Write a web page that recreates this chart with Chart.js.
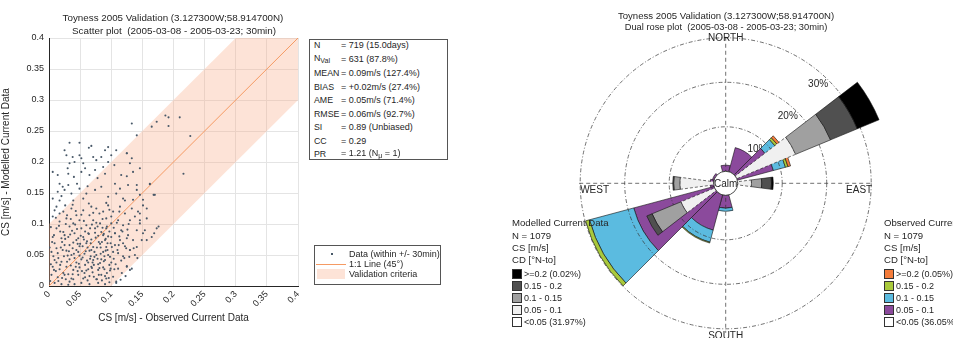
<!DOCTYPE html>
<html>
<head>
<meta charset="utf-8">
<script src="https://cdn.jsdelivr.net/npm/chart.js@4.4.0/dist/chart.umd.min.js"></script>
<style>
body { margin: 0; background: #fff; }
#wrap { position: relative; width: 953px; height: 338px; overflow: hidden; font-family: "Liberation Sans", Arial, sans-serif; color: #262626; }
.t { position: absolute; white-space: nowrap; line-height: 1; transform: translateY(-50%); }
.c { transform: translate(-50%, -50%); }
canvas { position: absolute; }
.box { position: absolute; border: 1px solid #555; background: #fff; }
.sw { position: absolute; width: 8px; height: 8px; border: 1px solid #333; }
sub { font-size: 7px; }
</style>
</head>
<body>
<div id="wrap">
  <canvas id="scatter" width="310" height="338" style="left:0;top:0"></canvas>
  <canvas id="rose" width="473" height="338" style="left:480px;top:0"></canvas>

  <!-- titles -->
  <div class="t c" style="left:173px;top:18px;font-size:9.8px">Toyness 2005 Validation (3.127300W;58.914700N)</div>
  <div class="t c" style="left:174px;top:31px;font-size:9.9px">Scatter plot&nbsp; (2005-03-08 - 2005-03-23; 30min)</div>
  <div class="t c" style="left:726px;top:16px;font-size:9.6px">Toyness 2005 Validation (3.127300W;58.914700N)</div>
  <div class="t c" style="left:726px;top:28px;font-size:9.3px">Dual rose plot&nbsp; (2005-03-08 - 2005-03-23; 30min)</div>

  <!-- stats box -->
  <div class="box" style="left:309px;top:39px;width:137px;height:119px"></div>
  <div id="stats"></div>

  <!-- scatter legend -->
  <div class="box" style="left:314px;top:245px;width:125px;height:38px"></div>
  <div style="position:absolute;left:331px;top:253px;width:2px;height:2px;background:#485868"></div>
  <div style="position:absolute;left:316px;top:264px;width:30px;height:1px;background:#f59a63"></div>
  <div style="position:absolute;left:317px;top:269px;width:28px;height:10px;background:#fde3d7"></div>
  <div class="t" style="left:349px;top:254px;font-size:9px">Data (within +/- 30min)</div>
  <div class="t" style="left:349px;top:264px;font-size:9px">1:1 Line (45°)</div>
  <div class="t" style="left:349px;top:274px;font-size:9px">Validation criteria</div>

  <div id="legMod"></div>
  <div id="legObs"></div>
</div>
<script>
// ---------- scatter data: [observed CS, modelled CS] in m/s ----------
const scatterPairs = [
  [0.033,0.231],[0.049,0.231],[0.064,0.223],[0.025,0.219],[0.090,0.219],[0.095,0.224],[0.028,0.211],[0.038,0.208],
  [0.049,0.211],[0.052,0.206],[0.071,0.208],[0.084,0.208],[0.100,0.211],[0.108,0.219],[0.125,0.214],[0.133,0.206],
  [0.033,0.198],[0.041,0.200],[0.055,0.198],[0.076,0.203],[0.095,0.200],[0.006,0.184],[0.014,0.179],[0.031,0.181],
  [0.052,0.184],[0.065,0.179],[0.074,0.187],[0.090,0.181],[0.116,0.179],[0.135,0.184],[0.146,0.190],[0.017,0.165],
  [0.022,0.160],[0.031,0.163],[0.014,0.152],[0.025,0.155],[0.036,0.149],[0.049,0.157],[0.060,0.149],[0.074,0.155],
  [0.084,0.160],[0.006,0.141],[0.017,0.138],[0.039,0.138],[0.055,0.141],[0.106,0.165],[0.114,0.157],[0.127,0.163],
  [0.108,0.149],[0.141,0.155],[0.095,0.144],[0.119,0.141],[0.146,0.147],[0.170,0.147],[0.162,0.165],[0.216,0.181],
  [0.012,0.128],[0.023,0.120],[0.036,0.125],[0.044,0.114],[0.055,0.122],[0.065,0.114],[0.076,0.125],[0.087,0.120],
  [0.095,0.130],[0.103,0.120],[0.114,0.128],[0.122,0.117],[0.133,0.125],[0.143,0.120],[0.151,0.130],[0.006,0.112],
  [0.017,0.104],[0.028,0.109],[0.039,0.101],[0.049,0.106],[0.060,0.098],[0.071,0.106],[0.082,0.101],[0.092,0.109],
  [0.100,0.101],[0.111,0.106],[0.119,0.098],[0.130,0.106],[0.146,0.101],[0.157,0.109],[0.012,0.093],[0.023,0.087],
  [0.033,0.096],[0.041,0.085],[0.052,0.093],[0.063,0.085],[0.074,0.093],[0.084,0.087],[0.092,0.093],[0.106,0.085],
  [0.116,0.090],[0.127,0.082],[0.141,0.090],[0.151,0.085],[0.173,0.093],[0.006,0.079],[0.020,0.077],[0.031,0.079],
  [0.044,0.074],[0.055,0.079],[0.068,0.075],[0.079,0.081],[0.090,0.074],[0.100,0.079],[0.114,0.074],[0.125,0.077],
  [0.135,0.074],[0.149,0.074],[0.165,0.079],[0.009,0.069],[0.025,0.066],[0.039,0.070],[0.049,0.064],[0.060,0.069],
  [0.071,0.063],[0.082,0.068],[0.092,0.063],[0.106,0.066],[0.122,0.064],[0.130,0.058],[0.141,0.063],[0.004,0.055],
  [0.014,0.053],[0.028,0.057],[0.036,0.050],[0.047,0.055],[0.057,0.052],[0.065,0.057],[0.076,0.050],[0.087,0.055],
  [0.095,0.050],[0.111,0.053],[0.119,0.048],[0.138,0.050],[0.009,0.042],[0.020,0.039],[0.033,0.043],[0.044,0.038],
  [0.052,0.043],[0.063,0.038],[0.071,0.042],[0.082,0.037],[0.090,0.042],[0.100,0.038],[0.125,0.032],[0.133,0.028],
  [0.006,0.031],[0.017,0.027],[0.028,0.031],[0.039,0.026],[0.049,0.030],[0.060,0.025],[0.068,0.031],[0.079,0.026],
  [0.087,0.030],[0.098,0.025],[0.111,0.028],[0.004,0.018],[0.014,0.014],[0.025,0.018],[0.036,0.012],[0.047,0.018],
  [0.055,0.012],[0.065,0.016],[0.076,0.011],[0.084,0.018],[0.092,0.012],[0.103,0.015],[0.009,0.005],[0.020,0.003],
  [0.033,0.007],[0.041,0.003],[0.052,0.005],[0.065,0.003],[0.079,0.005],[0.090,0.003],[0.108,0.005],
  [0.133,0.262],[0.141,0.243],[0.165,0.257],[0.173,0.265],[0.187,0.275],[0.192,0.272],[0.192,0.258],[0.210,0.272],
  [0.227,0.242],[0.168,0.147],[0.162,0.164],[0.176,0.096],[0.169,0.085],[0.154,0.090],[0.157,0.125],[0.125,0.214],
  [0.130,0.198],[0.125,0.177],[0.141,0.163],[0.135,0.139],[0.151,0.139],[0.146,0.117],[0.130,0.058],[0.125,0.031],
  [0.130,0.026],[0.108,0.007],[0.106,0.085],[0.146,0.106],[0.157,0.074],
  [0.003,0.095],[0.018,0.088],[0.027,0.100],[0.045,0.092],[0.058,0.088],[0.069,0.099],[0.086,0.094],[0.097,0.088],
  [0.008,0.082],[0.021,0.071],[0.034,0.083],[0.047,0.077],[0.061,0.072],[0.075,0.078],[0.088,0.084],[0.099,0.069],
  [0.012,0.061],[0.024,0.048],[0.038,0.061],[0.050,0.068],[0.062,0.062],[0.073,0.055],[0.083,0.062],[0.094,0.058],
  [0.104,0.044],[0.007,0.048],[0.018,0.034],[0.030,0.049],[0.041,0.045],[0.054,0.046],[0.067,0.048],[0.078,0.044],
  [0.089,0.048],[0.097,0.034],[0.011,0.024],[0.023,0.021],[0.035,0.033],[0.046,0.024],[0.058,0.034],[0.070,0.022],
  [0.080,0.018],[0.093,0.021],[0.105,0.027],[0.015,0.008],[0.027,0.011],[0.038,0.019],[0.057,0.021],[0.062,0.009],
  [0.072,0.015],[0.085,0.009],[0.097,0.006],[0.115,0.010],[0.003,0.035],[0.001,0.062],[0.002,0.008],[0.031,0.002],
  [0.044,0.058],[0.056,0.105],[0.066,0.044],[0.079,0.035],[0.091,0.076],[0.078,0.096],[0.011,0.110],[0.026,0.130],
  [0.043,0.121],[0.064,0.133],[0.081,0.117],[0.100,0.112],[0.118,0.088],[0.124,0.061],[0.112,0.066],[0.104,0.094],
  [0.136,0.061],[0.142,0.045],[0.121,0.045],[0.117,0.021],[0.128,0.100],[0.138,0.112],[0.122,0.138],[0.092,0.134],
  [0.071,0.118],[0.035,0.108],
  [0.015,0.045],[0.022,0.058],[0.029,0.039],[0.033,0.066],[0.040,0.052],[0.048,0.036],[0.051,0.081],[0.059,0.056],
  [0.063,0.027],[0.067,0.069],[0.070,0.038],[0.074,0.086],[0.077,0.062],[0.081,0.029],[0.085,0.071],[0.088,0.040],
  [0.091,0.057],[0.095,0.080],[0.098,0.047],[0.101,0.063],[0.012,0.038],[0.019,0.062],[0.026,0.076],[0.031,0.019],
  [0.037,0.089],[0.043,0.031],[0.046,0.068],[0.053,0.024],[0.056,0.075],[0.061,0.041],[0.066,0.093],[0.069,0.029],
  [0.073,0.047],[0.077,0.011],[0.083,0.052],[0.087,0.082],[0.090,0.016],[0.094,0.069],[0.099,0.028],[0.103,0.055],
  [0.005,0.071],[0.008,0.026],[0.016,0.097],[0.021,0.013],[0.025,0.082],[0.032,0.056],[0.039,0.011],[0.042,0.099],
  [0.049,0.049],[0.054,0.064],[0.058,0.014],[0.064,0.084],[0.068,0.058],[0.072,0.034],[0.076,0.102],[0.080,0.071],
  [0.084,0.043],[0.089,0.027],[0.093,0.096],[0.096,0.013],[0.107,0.035],[0.110,0.058],[0.113,0.080],[0.116,0.041],
  [0.119,0.069],[0.123,0.016],[0.126,0.091],[0.129,0.047],[0.109,0.102],[0.113,0.120],[0.020,0.145],[0.045,0.165],
  [0.058,0.190],[0.078,0.174],[0.040,0.176],[0.062,0.161],[0.087,0.192],[0.030,0.190],[0.068,0.226],[0.105,0.195],
  [0.017,0.117],[0.038,0.131],[0.052,0.115],[0.068,0.128],[0.086,0.108],[0.097,0.123],[0.029,0.114],[0.009,0.122]
];
const axisTicks = [0, 0.05, 0.1, 0.15, 0.2, 0.25, 0.3, 0.35, 0.4];
const bandUpper = [[0, 0.1], [0.1, 0.2], [0.3, 0.4], [0.4, 0.4]];
const bandLower = [[0, 0], [0.1, 0], [0.3, 0.2], [0.4, 0.3]];
const oneToOne = [[0, 0], [0.4, 0.4]];

const statLabels = ['N', 'N<sub>Val</sub>', 'MEAN', 'BIAS', 'AME', 'RMSE', 'SI', 'CC', 'PR'];
const statValues = ['= 719 (15.0days)', '= 631 (87.8%)', '= 0.09m/s (127.4%)', '= +0.02m/s (27.4%)',
  '= 0.05m/s (71.4%)', '= 0.06m/s (92.7%)', '= 0.89 (Unbiased)', '= 0.29', '= 1.21 (N<sub>μ</sub> = 1)'];

// ---------- rose data: percentage per direction bin (degrees, going to) ----------
const roseDirs = [0, 30, 60, 90, 120, 150, 180, 210, 240, 270, 300, 330];
// observed current, per speed class
const obs05to10 = [1.4, 5.6, 8.4, 0, 0, 0, 2.9, 8.2, 18.7, 0.8, 0.4, 0];
const obs10to15 = [0, 0, 2.8, 0, 0, 0, 0.7, 2.8, 10.3, 0, 0, 0];
const obs15to20 = [0, 0, 0.6, 0, 0, 0, 0, 0.2, 0.9, 0, 0, 0];
const obsOver20 = [0, 0, 0.6, 0, 0, 0, 0, 0, 0, 0, 0, 0];
// modelled current, per speed class
const mod05to10 = [0, 0, 14.3, 3.1, 0, 0, 0, 0, 8.2, 7.6, 0, 0];
const mod10to15 = [0, 0, 8.5, 2.3, 0, 0, 0, 0, 7.0, 1.4, 0, 0];
const mod15to20 = [0, 0, 6.5, 2.2, 0, 0, 0, 0, 1.3, 0.2, 0, 0];
const modOver20 = [0, 0, 5.3, 0.4, 0, 0, 0, 0, 0, 0, 0, 0];
const roseRings = [10, 20, 30];
const calmRadius = 2.7;   // calm circle, in % units

const obsColors = ['#8b4a9c', '#5bbbe0', '#a9c93b', '#f47c3a'];
const modColors = ['#f0f0f0', '#a0a0a0', '#505050', '#000000'];
const classNames = ['>=0.2', '0.15 - 0.2', '0.1 - 0.15', '0.05 - 0.1', '<0.05'];

// ---------- html text blocks ----------
function addText(parent, x, y, html, size) {
  const d = document.createElement('div');
  d.className = 't';
  d.style.left = x + 'px';
  d.style.top = y + 'px';
  d.style.fontSize = size + 'px';
  d.innerHTML = html;
  parent.appendChild(d);
}

const statsEl = document.getElementById('stats');
const statY = [45, 59, 73, 87, 100, 114, 127, 141, 154];
statLabels.forEach((l, i) => {
  addText(statsEl, 314, statY[i], l, 8.8);
  addText(statsEl, 341, statY[i], statValues[i], 9);
});

function roseLegend(el, x, title, calmPct, colors) {
  addText(el, x, 223, title, 9.6);
  addText(el, x, 236, 'N = 1079', 9.6);
  addText(el, x, 248, 'CS [m/s]', 9.6);
  addText(el, x, 260, 'CD [°N-to]', 9.6);
  const rows = [274, 286, 298, 310, 322];
  const fills = [colors[3], colors[2], colors[1], colors[0], '#ffffff'];
  rows.forEach((y, i) => {
    const s = document.createElement('div');
    s.className = 'sw';
    s.style.left = x + 'px';
    s.style.top = (y - 5) + 'px';
    s.style.background = fills[i];
    el.appendChild(s);
    let label = classNames[i];
    if (i === 0) label += ' (' + (title[0] === 'M' ? '0.02%' : '0.05%') + ')';
    if (i === 4) label += ' (' + calmPct + ')';
    addText(el, x + 12, y, label, 9);
  });
}
roseLegend(document.getElementById('legMod'), 512, 'Modelled Current Data', '31.97%', modColors);
roseLegend(document.getElementById('legObs'), 884, 'Observed Current Data', '36.05%', obsColors);

// ---------- scatter chart ----------
const toXY = p => ({ x: p[0], y: p[1] });
const tickFmt = v => String(parseFloat(v.toFixed(2)));
const tickFont = { family: '"Liberation Sans", Arial, sans-serif', size: 9 };
const axisTitleFont = { family: '"Liberation Sans", Arial, sans-serif', size: 10 };

new Chart(document.getElementById('scatter'), {
  type: 'scatter',
  data: {
    datasets: [
      { type: 'line', data: bandUpper.map(toXY), borderWidth: 0, pointRadius: 0, fill: '+1',
        backgroundColor: 'rgba(248,175,140,0.35)', order: 3 },
      { type: 'line', data: bandLower.map(toXY), borderWidth: 0, pointRadius: 0, fill: false, order: 4 },
      { type: 'line', data: oneToOne.map(toXY), borderColor: '#f59a63', borderWidth: 1, pointRadius: 0, order: 2 },
      { data: scatterPairs.map(toXY), pointRadius: 1.05, backgroundColor: '#485868', borderWidth: 0, order: 1 }
    ]
  },
  options: {
    responsive: false,
    animation: false,
    layout: { padding: { top: 38, right: 12, left: 0, bottom: 0 } },
    plugins: { legend: { display: false }, tooltip: { enabled: false } },
    scales: {
      x: {
        type: 'linear', min: 0, max: 0.4,
        afterBuildTicks: s => { s.ticks = axisTicks.map(v => ({ value: v })); },
        afterFit: s => { s.height = 52; },
        ticks: { callback: tickFmt, minRotation: 45, maxRotation: 45, color: '#262626', font: tickFont, padding: 3 },
        grid: { color: '#e4e4e4', drawTicks: false },
        border: { color: '#262626' },
        title: { display: true, text: 'CS [m/s] - Observed Current Data', color: '#262626',
          font: axisTitleFont, padding: { top: 0, bottom: 14 } }
      },
      y: {
        type: 'linear', min: 0, max: 0.4,
        afterBuildTicks: s => { s.ticks = axisTicks.map(v => ({ value: v })); },
        afterFit: s => { s.width = 49; },
        ticks: { callback: tickFmt, color: '#262626', font: tickFont, padding: 5 },
        grid: { color: '#e4e4e4', drawTicks: false },
        border: { color: '#262626' },
        title: { display: true, text: 'CS [m/s] - Modelled Current Data', color: '#262626',
          font: axisTitleFont, padding: { top: 0, bottom: 6 } }
      }
    }
  }
});

// ---------- rose chart ----------
function sector(ctx, cx, cy, r0, r1, bearing, width, fill, dashed) {
  const a0 = (bearing - width / 2 - 90) * Math.PI / 180;
  const a1 = (bearing + width / 2 - 90) * Math.PI / 180;
  ctx.beginPath();
  ctx.arc(cx, cy, r1, a0, a1);
  ctx.arc(cx, cy, r0, a1, a0, true);
  ctx.closePath();
  ctx.fillStyle = fill;
  ctx.fill();
  ctx.lineWidth = 0.6;
  ctx.strokeStyle = '#111';
  ctx.setLineDash(dashed ? [3, 2] : []);
  ctx.stroke();
  ctx.setLineDash([]);
}

function drawStack(ctx, cx, cy, rad, classes, colors, width, lightDashed) {
  roseDirs.forEach((dir, i) => {
    let cum = calmRadius;
    classes.forEach((arr, k) => {
      const v = arr[i];
      if (v > 0) {
        sector(ctx, cx, cy, rad(cum), rad(cum + v), dir, width, colors[k], lightDashed && k === 0);
        cum += v;
      }
    });
  });
}

const rosePlugin = {
  id: 'rose',
  afterDatasetsDraw(chart) {
    const ctx = chart.ctx;
    const xs = chart.scales.x, ys = chart.scales.y;
    const cx = xs.getPixelForValue(0), cy = ys.getPixelForValue(0);
    const rad = v => xs.getPixelForValue(v) - cx;
    const outer = rad(roseRings[roseRings.length - 1] + calmRadius);
    ctx.save();
    ctx.fillStyle = '#262626';
    ctx.font = '10px "Liberation Sans", Arial, sans-serif';
    ctx.textAlign = 'center';
    ctx.textBaseline = 'middle';

    // ring labels (under the sectors)
    roseRings.forEach(r => {
      const rr = rad(r + calmRadius) - 10;
      const b = 43 * Math.PI / 180;
      ctx.fillText(r + '%', cx + rr * Math.sin(b), cy - rr * Math.cos(b));
    });

    // observed: full-width sectors
    drawStack(ctx, cx, cy, rad, [obs05to10, obs10to15, obs15to20, obsOver20], obsColors, 30, false);

    // grid rings and axes
    ctx.strokeStyle = '#333';
    ctx.lineWidth = 0.7;
    ctx.setLineDash([4, 2, 1, 2]);
    roseRings.forEach(r => {
      ctx.beginPath();
      ctx.arc(cx, cy, rad(r + calmRadius), 0, Math.PI * 2);
      ctx.stroke();
    });
    ctx.setLineDash([4, 3]);
    ctx.beginPath();
    ctx.moveTo(cx, cy - outer - 1); ctx.lineTo(cx, cy + outer + 4);
    ctx.moveTo(cx - outer - 1, cy); ctx.lineTo(cx + outer + 1, cy);
    ctx.stroke();
    ctx.setLineDash([]);

    // modelled: half-width sectors on top
    drawStack(ctx, cx, cy, rad, [mod05to10, mod10to15, mod15to20, modOver20], modColors, 15, true);

    // calm circle
    ctx.beginPath();
    ctx.arc(cx, cy, rad(calmRadius), 0, Math.PI * 2);
    ctx.fillStyle = '#fff';
    ctx.fill();
    ctx.lineWidth = 0.8;
    ctx.strokeStyle = '#222';
    ctx.stroke();

    ctx.fillStyle = '#262626';
    ctx.fillText('Calm', cx, cy + 1);

    // compass labels
    ctx.textBaseline = 'bottom';
    ctx.fillText('NORTH', cx, cy - outer + 5);
    ctx.textBaseline = 'top';
    ctx.fillText('SOUTH', cx, cy + outer + 2);
    ctx.textBaseline = 'middle';
    ctx.textAlign = 'left';
    ctx.fillText('WEST', cx - outer, cy + 7);
    ctx.textAlign = 'right';
    ctx.fillText('EAST', cx + outer + 1, cy + 7);
    ctx.restore();
  }
};

const pxPerUnit = 4.45;
const roseCx = 245.7, roseCy = 183.3;
new Chart(document.getElementById('rose'), {
  type: 'scatter',
  data: { datasets: [{ data: [], pointRadius: 0 }] },
  options: {
    responsive: false,
    animation: false,
    layout: { padding: 0 },
    plugins: { legend: { display: false }, tooltip: { enabled: false } },
    scales: {
      x: { display: false, min: -roseCx / pxPerUnit, max: (473 - roseCx) / pxPerUnit },
      y: { display: false, min: -(338 - roseCy) / pxPerUnit, max: roseCy / pxPerUnit }
    }
  },
  plugins: [rosePlugin]
});
</script>
</body>
</html>
